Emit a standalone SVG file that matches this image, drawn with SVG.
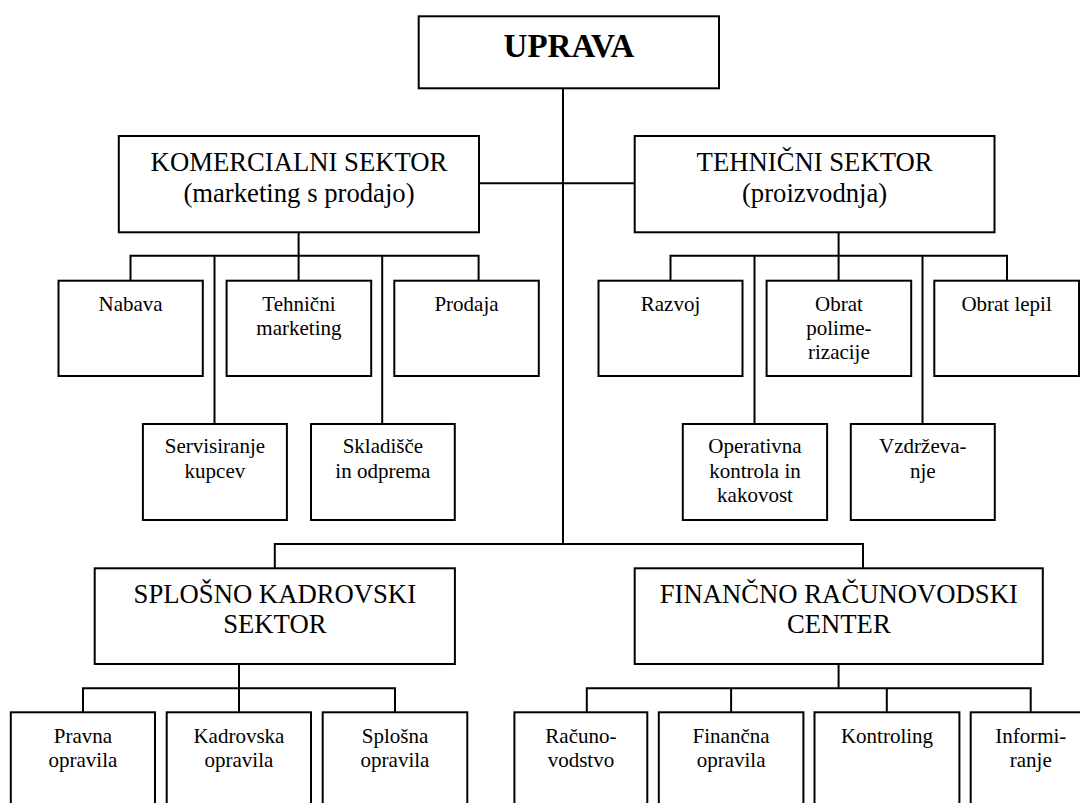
<svg xmlns="http://www.w3.org/2000/svg" width="1080" height="803" viewBox="0 0 1080 803">
<style>
.b{fill:#fff;stroke:#000;stroke-width:2}
.c path{fill:none;stroke:#000;stroke-width:2}
text{font-family:'Liberation Serif',serif;fill:#000;text-anchor:middle}
.t{font-size:33px;font-weight:bold}
.s{font-size:26.7px}
.n{font-size:21px}
</style>
<rect x="0" y="0" width="1080" height="803" fill="#fff"/>
<g class="c" id="connectors">
<path d="M563 88.3V544"/>
<path d="M479 183.3H634.7"/>
<path d="M274.8 568.3V544H863V568.3"/>
<path d="M298.6 232.3V255.7M130.5 280.7V255.7H478.6V280.7M214.5 255.7V424M298.6 255.7V280.7M382.2 255.7V424"/>
<path d="M838.6 232.3V255.7M670.5 280.7V255.7H1007V280.7M754.5 255.7V424M838.6 255.7V280.7M922.5 255.7V424"/>
<path d="M239 664V688.3M83 712.3V688.3H395V712.3M239 688.3V712.3"/>
<path d="M838.6 664V688.3M586.8 712.3V688.3H1030.7V712.3M731.1 688.3V712.3M886.8 688.3V712.3"/>
</g>
<g id="uprava"><rect class="b" x="418.7" y="16.3" width="300.3" height="72"/><text class="t" x="569" y="57.3">UPRAVA</text></g>
<g id="komercialni"><rect class="b" x="118.8" y="136" width="360.2" height="96.3"/><text class="s" x="299" y="171">KOMERCIALNI SEKTOR</text><text class="s" x="299" y="201.7">(marketing s prodajo)</text></g>
<g id="tehnicni"><rect class="b" x="634.7" y="136" width="359.8" height="96.3"/><text class="s" x="814.6" y="171">TEHNIČNI SEKTOR</text><text class="s" x="814.6" y="201.7">(proizvodnja)</text></g>
<g id="nabava"><rect class="b" x="58.5" y="280.7" width="144.3" height="95.3"/><text class="n" x="130.6" y="310.7">Nabava</text></g>
<g id="tehnicni-marketing"><rect class="b" x="226.6" y="280.7" width="144.6" height="95.3"/><text class="n" x="298.9" y="310.7">Tehnični</text><text class="n" x="298.9" y="335">marketing</text></g>
<g id="prodaja"><rect class="b" x="394.3" y="280.7" width="144.5" height="95.3"/><text class="n" x="466.5" y="310.7">Prodaja</text></g>
<g id="servisiranje"><rect class="b" x="142.9" y="424" width="144" height="96"/><text class="n" x="214.9" y="453.3">Servisiranje</text><text class="n" x="214.9" y="477.8">kupcev</text></g>
<g id="skladisce"><rect class="b" x="311" y="424" width="143.8" height="96"/><text class="n" x="382.9" y="453.3">Skladišče</text><text class="n" x="382.9" y="477.8">in odprema</text></g>
<g id="razvoj"><rect class="b" x="598.5" y="280.7" width="144" height="95.3"/><text class="n" x="670.5" y="310.7">Razvoj</text></g>
<g id="obrat-polimerizacije"><rect class="b" x="766.6" y="280.7" width="144.6" height="95.3"/><text class="n" x="838.9" y="310.7">Obrat</text><text class="n" x="838.9" y="335">polime-</text><text class="n" x="838.9" y="359">rizacije</text></g>
<g id="obrat-lepil"><rect class="b" x="934.3" y="280.7" width="144.7" height="95.3"/><text class="n" x="1006.6" y="310.7">Obrat lepil</text></g>
<g id="operativna"><rect class="b" x="682.8" y="424" width="144.3" height="96"/><text class="n" x="755" y="453.3">Operativna</text><text class="n" x="755" y="477.8">kontrola in</text><text class="n" x="755" y="501.9">kakovost</text></g>
<g id="vzdrzevanje"><rect class="b" x="850.8" y="424" width="144" height="96"/><text class="n" x="922.8" y="453.3">Vzdrževa-</text><text class="n" x="922.8" y="477.8">nje</text></g>
<g id="splosno"><rect class="b" x="94.7" y="568.3" width="360.2" height="95.7"/><text class="s" x="274.8" y="603.3">SPLOŠNO KADROVSKI</text><text class="s" x="274.8" y="633.3">SEKTOR</text></g>
<g id="financno"><rect class="b" x="634.7" y="568.3" width="408.1" height="95.7"/><text class="s" x="838.8" y="603.3">FINANČNO RAČUNOVODSKI</text><text class="s" x="838.8" y="633.3">CENTER</text></g>
<g id="pravna"><rect class="b" x="10.8" y="712.3" width="144.2" height="110"/><text class="n" x="82.9" y="743">Pravna</text><text class="n" x="82.9" y="767">opravila</text></g>
<g id="kadrovska"><rect class="b" x="166.7" y="712.3" width="144.3" height="110"/><text class="n" x="238.9" y="743">Kadrovska</text><text class="n" x="238.9" y="767">opravila</text></g>
<g id="splosna"><rect class="b" x="322.7" y="712.3" width="144.6" height="110"/><text class="n" x="395" y="743">Splošna</text><text class="n" x="395" y="767">opravila</text></g>
<g id="racunovodstvo"><rect class="b" x="514.4" y="712.3" width="132.9" height="110"/><text class="n" x="580.9" y="743">Računo-</text><text class="n" x="580.9" y="767">vodstvo</text></g>
<g id="financna"><rect class="b" x="658.8" y="712.3" width="144.6" height="110"/><text class="n" x="731.1" y="743">Finančna</text><text class="n" x="731.1" y="767">opravila</text></g>
<g id="kontroling"><rect class="b" x="814.5" y="712.3" width="144.9" height="110"/><text class="n" x="887" y="743">Kontroling</text></g>
<g id="informiranje"><rect class="b" x="970.7" y="712.3" width="130" height="110"/><text class="n" x="1030.8" y="743">Informi-</text><text class="n" x="1030.8" y="767">ranje</text></g>
</svg>
